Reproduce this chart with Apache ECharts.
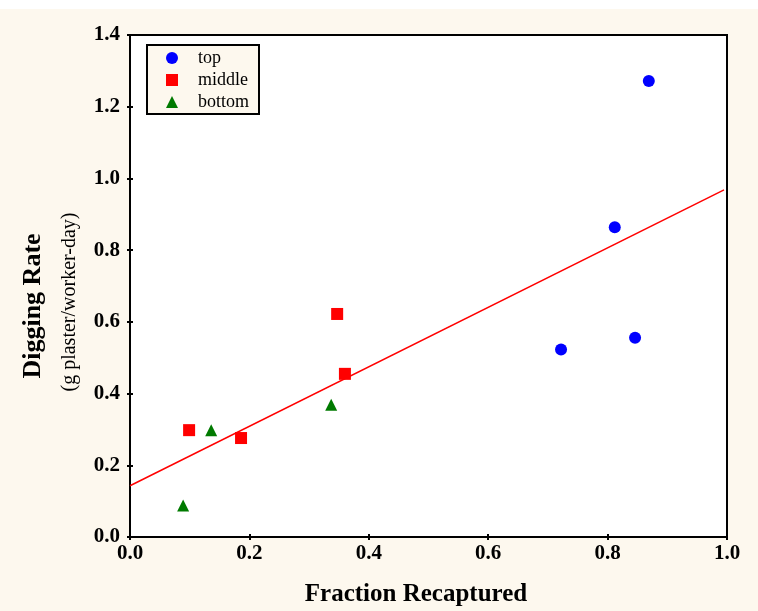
<!DOCTYPE html>
<html><head><meta charset="utf-8">
<script src="https://cdn.jsdelivr.net/npm/echarts@6/dist/echarts.min.js"></script>
<style>html,body{margin:0;padding:0;background:#fff}#c{width:758px;height:611px}</style>
</head><body><div id="c"></div>
<script>
var topData = [[0.722, 0.523], [0.812, 0.864], [0.846, 0.556], [0.869, 1.272]];
var middleData = [[0.099, 0.298], [0.186, 0.276], [0.347, 0.622], [0.360, 0.455]];
var bottomData = [[0.089, 0.088], [0.136, 0.298], [0.337, 0.369]];
var fitLine = [[0.0, 0.143], [0.995, 0.968]];
var xTitle = 'Fraction Recaptured';
var yTitle = 'Digging Rate';
var ySub = '(g plaster/worker-day)';

var FONT = '"Liberation Serif", "Times New Roman", serif';
var chart = echarts.init(document.getElementById('c'));
var tickStyle = {show: true, inside: true, length: 3, lineStyle: {color: '#000', width: 2}};
var lineStyle = {show: true, lineStyle: {color: '#000', width: 2}};
chart.setOption({
  backgroundColor: '#fff',
  graphic: [
    {type: 'rect', left: 0, top: 9, shape: {width: 758, height: 602}, style: {fill: '#fdf8ee'}, z: -10, silent: true},
    {type: 'text', x: 33, y: 306, rotation: Math.PI / 2, style: {text: yTitle, font: 'bold 26px ' + FONT, fill: '#000', textAlign: 'center', textVerticalAlign: 'middle'}},
    {type: 'text', x: 70, y: 302, rotation: Math.PI / 2, style: {text: ySub, font: '20px ' + FONT, fill: '#000', textAlign: 'center', textVerticalAlign: 'middle'}},
    {type: 'text', x: 416, y: 595, style: {text: xTitle, font: 'bold 25px ' + FONT, fill: '#000', textAlign: 'center', textVerticalAlign: 'middle'}}
  ],
  grid: {left: 130, top: 35, width: 597, height: 502, show: true, backgroundColor: '#fff', borderColor: '#000', borderWidth: 2},
  legend: {
    left: 147, top: 45, orient: 'vertical', itemWidth: 12, itemHeight: 12, itemGap: 4,
    padding: [4, 10, 3, 19],
    backgroundColor: '#fdf8ee', borderColor: '#000', borderWidth: 2,
    textStyle: {fontFamily: FONT, fontSize: 18, lineHeight: 16, color: '#000', padding: [0, 0, 0, 15]},
    data: [{name: 'top', icon: 'circle'}, {name: 'middle', icon: 'rect'}, {name: 'bottom', icon: 'triangle'}]
  },
  xAxis: [
    {type: 'value', min: 0, max: 1, interval: 0.2, position: 'bottom', axisLine: lineStyle, axisTick: tickStyle, splitLine: {show: false},
     axisLabel: {margin: 6, fontFamily: FONT, fontWeight: 'bold', fontSize: 21, color: '#000', formatter: function (v) { return v.toFixed(1); }}},
    {type: 'value', min: 0, max: 1, interval: 0.2, position: 'top', axisLine: lineStyle, axisTick: tickStyle, splitLine: {show: false}, axisLabel: {show: false}}
  ],
  yAxis: [
    {type: 'value', min: 0, max: 1.4, interval: 0.2, position: 'left', axisLine: lineStyle, axisTick: tickStyle, splitLine: {show: false},
     axisLabel: {margin: 10, fontFamily: FONT, fontWeight: 'bold', fontSize: 21, color: '#000', formatter: function (v) { return v.toFixed(1); }}},
    {type: 'value', min: 0, max: 1.4, interval: 0.2, position: 'right', axisLine: lineStyle, axisTick: tickStyle, splitLine: {show: false}, axisLabel: {show: false}}
  ],
  series: [
    {name: 'fit', type: 'line', data: fitLine, symbol: 'none', lineStyle: {color: '#ff0000', width: 1.5}, itemStyle: {color: '#ff0000'}, z: 1, silent: true},
    {name: 'top', type: 'scatter', data: topData, symbol: 'circle', symbolSize: 12, itemStyle: {color: '#0000ff', opacity: 1}, z: 3},
    {name: 'middle', type: 'scatter', data: middleData, symbol: 'rect', symbolSize: 12, itemStyle: {color: '#ff0000', opacity: 1}, z: 3},
    {name: 'bottom', type: 'scatter', data: bottomData, symbol: 'triangle', symbolSize: 12, itemStyle: {color: '#007a00', opacity: 1}, z: 3},
    {name: 'axes2', type: 'scatter', xAxisIndex: 1, yAxisIndex: 1, data: [[0.5, 0.5]], symbolSize: 0, silent: true, itemStyle: {opacity: 0}}
  ]
});
</script></body></html>
